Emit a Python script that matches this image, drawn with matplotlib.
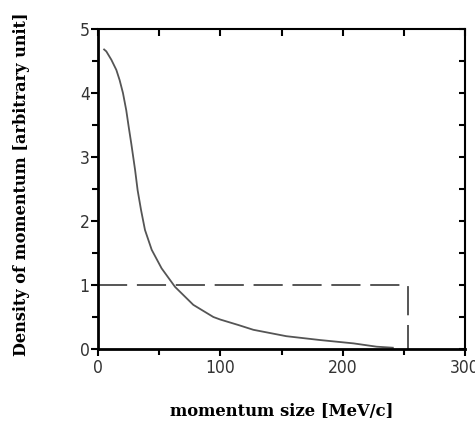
import matplotlib
matplotlib.use("Agg")
import matplotlib.pyplot as plt
from matplotlib.ticker import MultipleLocator, FixedLocator

momentum = [5, 6.8, 10.9, 15, 17.7, 20.4, 23.1, 25.1, 27.2, 30.3, 32.4, 35.2, 38.4,
            43.9, 52, 63, 77.9, 94.3, 100, 114.7, 127, 154, 181.5, 208.8, 227.8, 241]
density = [4.68, 4.65, 4.52, 4.36, 4.20, 4.0, 3.73, 3.47, 3.21, 2.80, 2.48, 2.17, 1.86,
           1.55, 1.26, 0.97, 0.69, 0.50, 0.46, 0.375, 0.30, 0.20, 0.14, 0.088, 0.036, 0.02]

uniform_x = [0, 253, 253]
uniform_y = [1, 1, 0]

xticks = [0, 100, 200, 300]
yticks = [0, 1, 2, 3, 4, 5]

fig = plt.figure(figsize=(4.75, 4.26), dpi=100)
ax = fig.add_axes([98/475, 77/426, 367/475, 320/426])

ax.plot(momentum, density, color='#555555', lw=1.3, solid_joinstyle='round')
ax.plot(uniform_x, uniform_y, color='#555555', lw=1.4, dashes=(15, 5))

ax.set_xlim(0, 300)
ax.set_ylim(0, 5)
ax.xaxis.set_major_locator(FixedLocator(xticks))
ax.xaxis.set_minor_locator(MultipleLocator(50))
ax.yaxis.set_major_locator(FixedLocator(yticks))
ax.yaxis.set_minor_locator(MultipleLocator(0.5))

for s in ['left', 'bottom']:
    ax.spines[s].set_linewidth(2.0)
for s in ['top', 'right']:
    ax.spines[s].set_linewidth(1.5)

ax.tick_params(axis='both', which='both', direction='out', bottom=True, left=True,
               top=False, right=False, width=1.5, colors='black', labelcolor='#333333')
ax.tick_params(axis='both', which='major', length=5, labelsize=12.5)
ax.tick_params(axis='both', which='minor', length=4)
ax.tick_params(axis='x', pad=2)
ax.tick_params(axis='y', pad=1)

ax2 = ax.secondary_xaxis('top')
ax2.xaxis.set_major_locator(MultipleLocator(50))
ax2.tick_params(direction='in', length=5, width=1.5, labeltop=False)
ax3 = ax.secondary_yaxis('right')
ax3.yaxis.set_major_locator(MultipleLocator(0.5))
ax3.tick_params(direction='in', length=4, width=1.5, labelright=False)
ax2.spines['top'].set_visible(False)
ax3.spines['right'].set_visible(False)

for lab in ax.get_xticklabels() + ax.get_yticklabels():
    lab.set_family('DejaVu Sans')
    lab.set_fontstretch('condensed')

fig.text(22/475, 1 - 184/426, 'Density of momentum [arbitrary unit]', rotation=90,
         ha='center', va='center', fontsize=11.6, fontweight='bold', family='DejaVu Serif')
fig.text(282/475, 1 - 412/426, 'momentum size [MeV/c]', ha='center', va='center',
         fontsize=11.8, fontweight='bold', family='DejaVu Serif')

fig.savefig('out.png', dpi=100)
